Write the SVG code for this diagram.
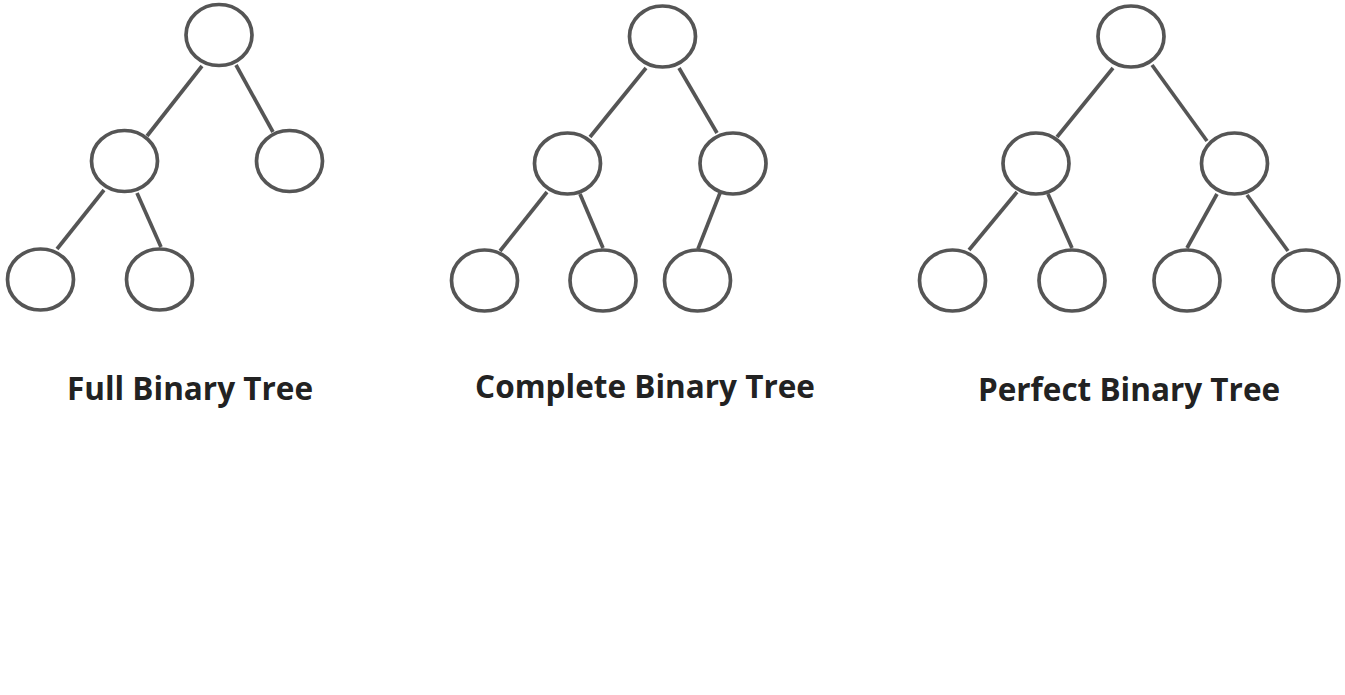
<svg xmlns="http://www.w3.org/2000/svg" width="1345" height="695" viewBox="0 0 1345 695">
<style>
.n{fill:#fff;stroke:#555;stroke-width:3.7}
.e{stroke:#555;stroke-width:3.7;fill:none;stroke-linecap:butt}
.t{font-family:"Open Sans","Liberation Sans",sans-serif;font-weight:bold;font-size:31.5px;fill:#222;text-anchor:middle}
</style>
<rect width="1345" height="695" fill="#fff"/>
<g id="connectors">
<line class="e" x1="202" y1="66" x2="147" y2="136"/>
<line class="e" x1="236" y1="65" x2="273" y2="132"/>
<line class="e" x1="104" y1="190" x2="57" y2="249"/>
<line class="e" x1="137" y1="193" x2="161" y2="247"/>
<line class="e" x1="646" y1="68" x2="590" y2="137"/>
<line class="e" x1="679" y1="68" x2="717" y2="133"/>
<line class="e" x1="547" y1="192" x2="500" y2="251"/>
<line class="e" x1="580" y1="194" x2="603" y2="248"/>
<line class="e" x1="720" y1="193" x2="698" y2="249"/>
<line class="e" x1="1113" y1="68" x2="1057" y2="137"/>
<line class="e" x1="1152" y1="65" x2="1207" y2="141"/>
<line class="e" x1="1017" y1="192" x2="969" y2="250"/>
<line class="e" x1="1048" y1="194" x2="1072" y2="248"/>
<line class="e" x1="1217" y1="194" x2="1187" y2="248"/>
<line class="e" x1="1247" y1="195" x2="1288" y2="251"/>
</g>
<g id="full-root"><ellipse class="n" cx="219" cy="35" rx="33" ry="30.5"/></g>
<g id="full-l"><ellipse class="n" cx="124.5" cy="161" rx="33" ry="30.5"/></g>
<g id="full-r"><ellipse class="n" cx="289.5" cy="161" rx="33" ry="30.5"/></g>
<g id="full-ll"><ellipse class="n" cx="40.5" cy="279.5" rx="33" ry="30.5"/></g>
<g id="full-lr"><ellipse class="n" cx="159.5" cy="279.5" rx="33" ry="30.5"/></g>
<g id="comp-root"><ellipse class="n" cx="662.5" cy="36.5" rx="33" ry="30.5"/></g>
<g id="comp-l"><ellipse class="n" cx="567.5" cy="163.5" rx="33" ry="30.5"/></g>
<g id="comp-r"><ellipse class="n" cx="733" cy="163.5" rx="33" ry="30.5"/></g>
<g id="comp-ll"><ellipse class="n" cx="484.5" cy="280.5" rx="33" ry="30.5"/></g>
<g id="comp-lr"><ellipse class="n" cx="603" cy="280.5" rx="33" ry="30.5"/></g>
<g id="comp-rl"><ellipse class="n" cx="697.5" cy="280.5" rx="33" ry="30.5"/></g>
<g id="perf-root"><ellipse class="n" cx="1131" cy="36.5" rx="33" ry="30.5"/></g>
<g id="perf-l"><ellipse class="n" cx="1036" cy="163.5" rx="33" ry="30.5"/></g>
<g id="perf-r"><ellipse class="n" cx="1234.5" cy="163.5" rx="33" ry="30.5"/></g>
<g id="perf-ll"><ellipse class="n" cx="952.5" cy="280.5" rx="33" ry="30.5"/></g>
<g id="perf-lr"><ellipse class="n" cx="1072" cy="280.5" rx="33" ry="30.5"/></g>
<g id="perf-rl"><ellipse class="n" cx="1187" cy="280.5" rx="33" ry="30.5"/></g>
<g id="perf-rr"><ellipse class="n" cx="1306" cy="280.5" rx="33" ry="30.5"/></g>
<g id="labels">
<text class="t" x="190" y="400">Full Binary Tree</text>
<text class="t" x="645" y="398">Complete Binary Tree</text>
<text class="t" x="1129" y="401">Perfect Binary Tree</text>
</g>
</svg>
